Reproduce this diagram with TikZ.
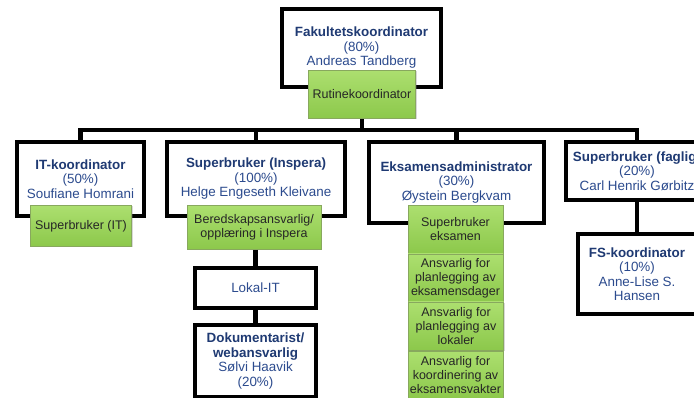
\documentclass[tikz,border=0pt]{standalone}
\usepackage{fontspec}
\setmainfont{Liberation Sans}
\usetikzlibrary{shadows}
\definecolor{titleblue}{HTML}{1F3A73}
\definecolor{nameblue}{HTML}{2C4B8E}
\definecolor{gtop}{HTML}{ACDF6F}
\definecolor{gbot}{HTML}{8CC84B}
\definecolor{gline}{HTML}{88A85E}
\begin{document}
\begin{tikzpicture}[x=1pt, y=-1pt,
    role/.style={draw, line width=4pt, fill=white, text=nameblue, align=center, inner sep=2pt,
      font=\fontsize{13.4}{14.5}\selectfont,
      drop shadow={shadow xshift=1.5pt, shadow yshift=-1.5pt, opacity=0.3}},
    task/.style={draw=gline, line width=0.7pt, top color=gtop, bottom color=gbot, text=black!85,
      align=center, inner sep=1pt, font=\fontsize{12.5}{14}\selectfont,
      drop shadow={shadow xshift=1pt, shadow yshift=-1pt, opacity=0.3}},
    link/.style={line width=4.5pt}]
    \useasboundingbox[fill=white] (0,0) rectangle (694,398);

    % people
    \node[role, minimum width=159pt, minimum height=78pt] at (361.5,48) (fak)
      {\textbf{\color{titleblue}Fakultetskoordinator}\\(80\%)\\Andreas Tandberg};
    \node[role, minimum width=127pt, minimum height=74pt] at (80.5,179) (it)
      {\textbf{\color{titleblue}IT-koordinator}\\(50\%)\\Soufiane Homrani};
    \node[role, minimum width=178pt, minimum height=74pt] at (256,179) (insp)
      {\textbf{\color{titleblue}Superbruker (Inspera)}\\(100\%)\\Helge Engeseth Kleivane};
    \node[role, minimum width=175pt, minimum height=81pt] at (456.5,182.5) (eks)
      {\textbf{\color{titleblue}Eksamensadministrator}\\(30\%)\\Øystein Bergkvam};
    \node[role, minimum width=142pt, minimum height=58pt] at (637,171) (fag)
      {\textbf{\color{titleblue}Superbruker (faglig)}\\(20\%)\\Carl Henrik Gørbitz};
    \node[role, minimum width=118pt, minimum height=80pt] at (637,274) (fs)
      {\textbf{\color{titleblue}FS-koordinator}\\(10\%)\\Anne-Lise S.\\Hansen};
    \node[role, minimum width=121pt, minimum height=40pt] at (255.5,288) (lokal) {Lokal-IT};
    \node[role, minimum width=121pt, minimum height=72pt] at (255.5,361) (dok)
      {\textbf{\color{titleblue}Dokumentarist/}\\\textbf{\color{titleblue}webansvarlig}\\Sølvi Haavik\\(20\%)};

    % tasks
    \node[task, minimum width=107pt, minimum height=48pt] at (362,94.5) (rutine) {Rutinekoordinator};
    \node[task, minimum width=101pt, minimum height=41pt] at (81,226) (suit) {Superbruker (IT)};
    \node[task, minimum width=134pt, minimum height=44pt] at (254,227.5) (bered)
      {Beredskapsansvarlig/\\opplæring i Inspera};
    \node[task, minimum width=95pt, minimum height=48pt] at (455.5,229.5) (sueks) {Superbruker\\eksamen};
    \node[task, minimum width=95pt, minimum height=48pt] at (455.5,278) (ans1)
      {Ansvarlig for\\planlegging av\\eksamensdager};
    \node[task, minimum width=95pt, minimum height=48pt] at (456,326) (ans2)
      {Ansvarlig for\\planlegging av\\lokaler};
    \node[task, minimum width=95pt, minimum height=48pt] at (455.5,375) (ans3)
      {Ansvarlig for\\koordinering av\\eksamensvakter};

    % lines
    \coordinate (bus) at (362,130);
    \draw[link] (rutine.south) -- (bus);
    \draw[link] (bus) -| (it.north);
    \draw[link] (bus) -| (insp.north);
    \draw[link] (bus) -| (eks.north);
    \draw[link] (bus) -| (fag.north);
    \draw[link] (bered.south -| lokal.north) -- (lokal.north);
    \draw[link] (lokal.south) -- (dok.north);
    \draw[link] (fag.south) -- (fs.north);
  \end{tikzpicture}
\end{document}
